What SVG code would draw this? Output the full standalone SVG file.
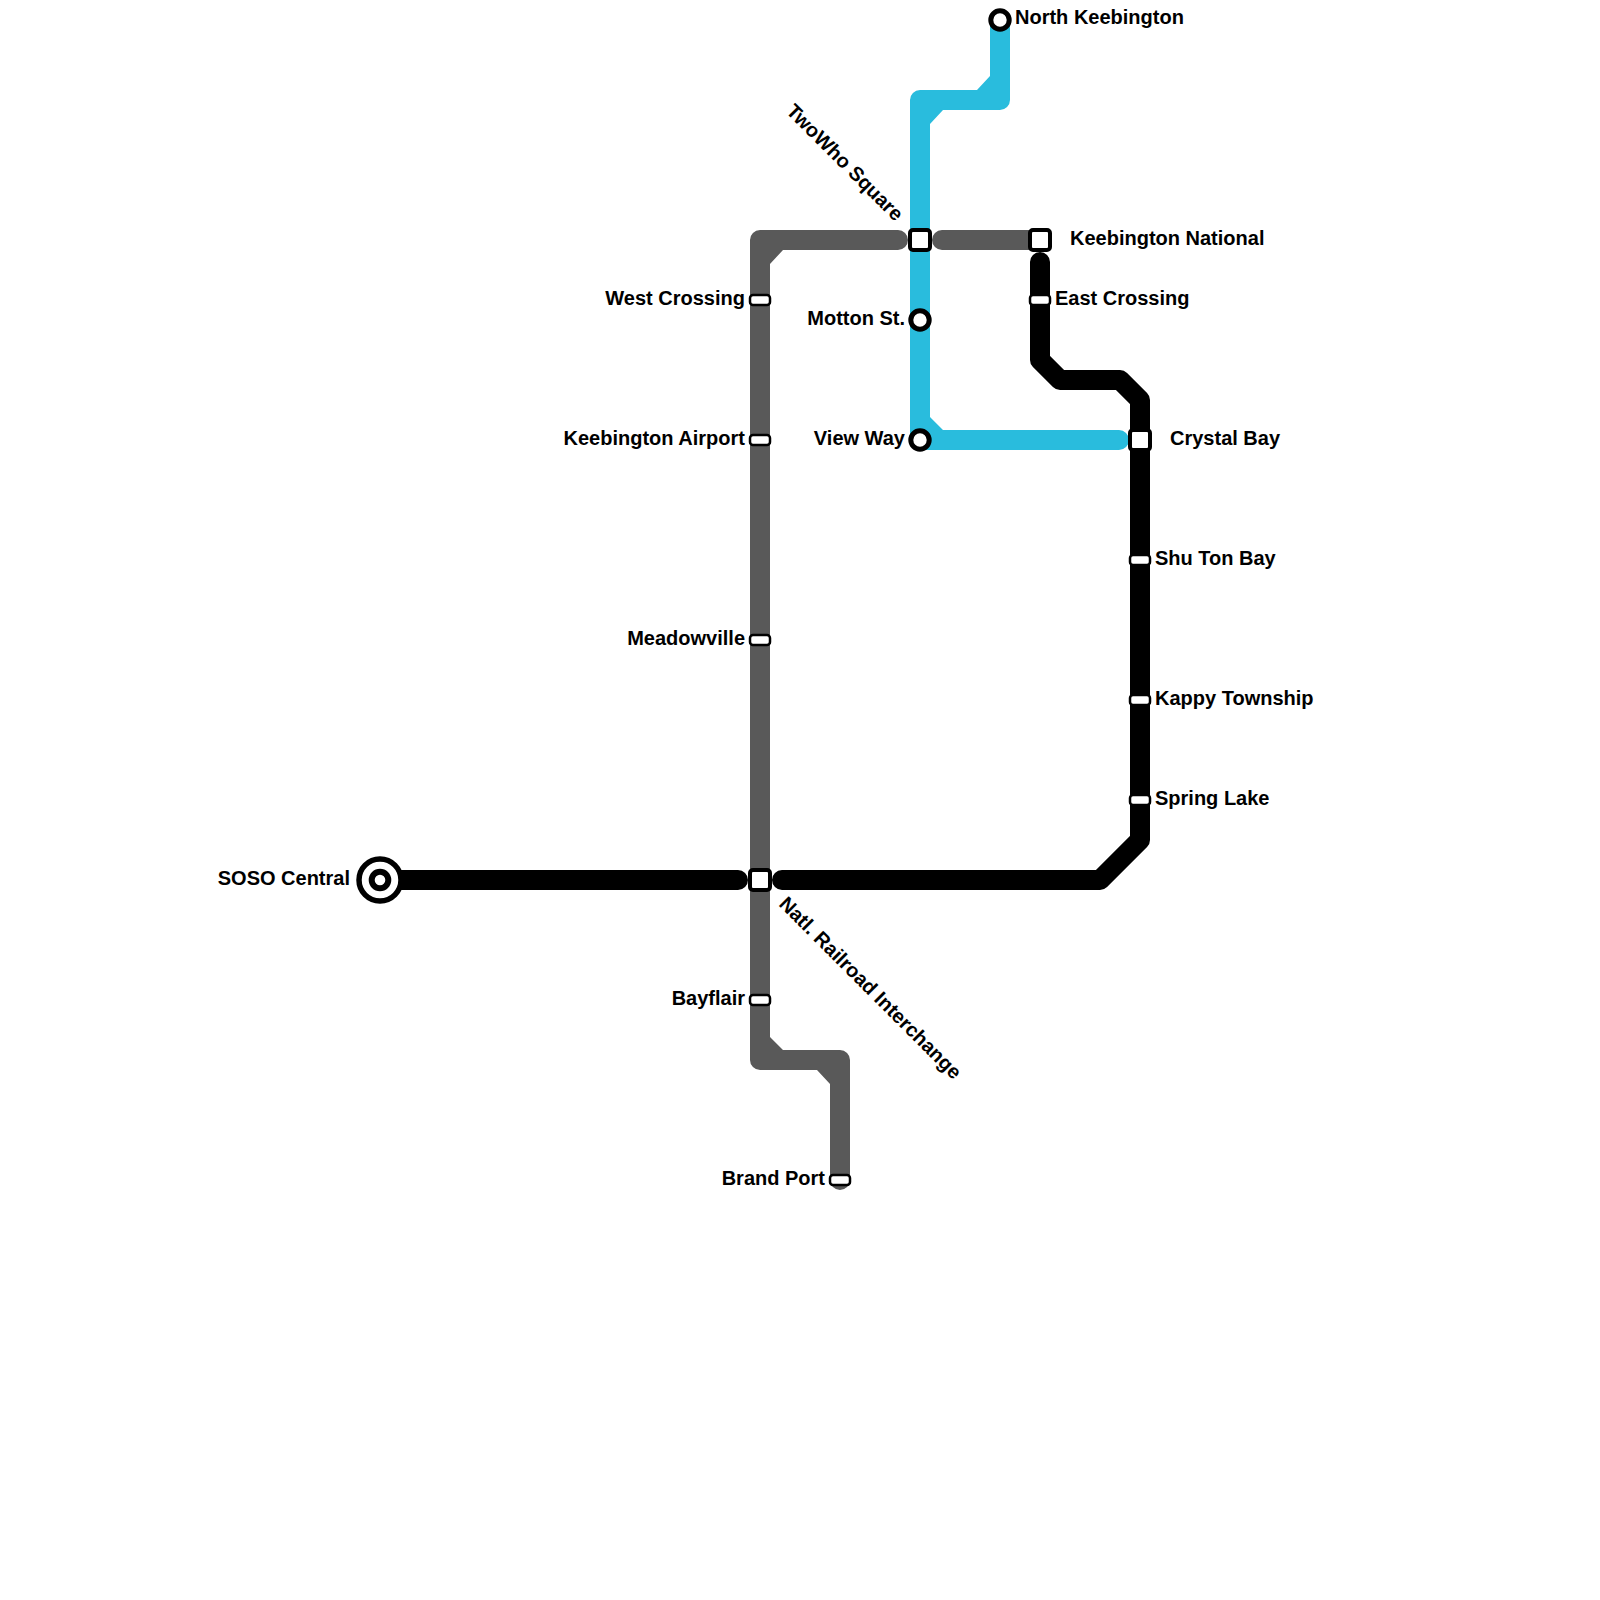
<svg xmlns="http://www.w3.org/2000/svg" width="1600" height="1600" viewBox="0 0 1600 1600">
<style>
.ln{fill:none;stroke-width:20;stroke-linecap:round;stroke-linejoin:round}
.blue{stroke:#29bcdd}.gray{stroke:#595959}.black{stroke:#000}
.fb{fill:#29bcdd}.fg{fill:#595959}
.sq{fill:#fff;stroke:#000;stroke-width:4}
.sm{fill:#fff;stroke:#000;stroke-width:2.5}
.c{fill:#fff;stroke:#000;stroke-width:5}
text{font-family:"Liberation Sans",Arial,sans-serif;font-weight:bold;font-size:20px;fill:#000}
.e{text-anchor:end}
</style>
<rect width="1600" height="1600" fill="#fff"/>
<g id="connectors">
<path class="ln gray" d="M898 240H760V1060H840V1180"/>
<path class="ln gray" d="M942 240H1040"/>
<path class="fg" d="M770 250H783L770 264ZM770 1050V1037L783 1050ZM830 1070H817L830 1084Z"/>
<path class="ln black" d="M1040 262V360L1060 380H1120L1140 400V840L1100 880H782"/>
<path class="ln black" d="M738 880H380"/>
<path class="ln blue" d="M1000 20V100H920V440H1119"/>
<path class="fb" d="M990 90H977L990 76ZM930 110H943L930 124ZM930 430V417L943 430Z"/>
</g>
<g id="north-keebington"><circle class="c" cx="1000" cy="20" r="9.2"/><text x="1015" y="24">North Keebington</text></g>
<g id="twowho-square"><rect class="sq" x="910" y="230" width="20" height="20" rx="3"/><text class="e" transform="translate(895 222) rotate(45)">TwoWho Square</text></g>
<g id="keebington-national"><rect class="sq" x="1030" y="230" width="20" height="20" rx="3"/><text x="1070" y="245">Keebington National</text></g>
<g id="west-crossing"><rect class="sm" x="750" y="295" width="20" height="10" rx="3"/><text class="e" x="745" y="305">West Crossing</text></g>
<g id="east-crossing"><rect class="sm" x="1030" y="295" width="20" height="10" rx="3"/><text x="1055" y="305">East Crossing</text></g>
<g id="motton-st"><circle class="c" cx="920" cy="320" r="9.2"/><text class="e" x="905" y="325">Motton St.</text></g>
<g id="keebington-airport"><rect class="sm" x="750" y="435" width="20" height="10" rx="3"/><text class="e" x="745" y="445">Keebington Airport</text></g>
<g id="view-way"><circle class="c" cx="920" cy="440" r="9.2"/><text class="e" x="905" y="445">View Way</text></g>
<g id="crystal-bay"><rect class="sq" x="1130" y="430" width="20" height="20" rx="3"/><text x="1170" y="445">Crystal Bay</text></g>
<g id="shu-ton-bay"><rect class="sm" x="1130" y="555" width="20" height="10" rx="3"/><text x="1155" y="565">Shu Ton Bay</text></g>
<g id="meadowville"><rect class="sm" x="750" y="635" width="20" height="10" rx="3"/><text class="e" x="745" y="645">Meadowville</text></g>
<g id="kappy-township"><rect class="sm" x="1130" y="695" width="20" height="10" rx="3"/><text x="1155" y="705">Kappy Township</text></g>
<g id="spring-lake"><rect class="sm" x="1130" y="795" width="20" height="10" rx="3"/><text x="1155" y="805">Spring Lake</text></g>
<g id="soso-central"><circle cx="380" cy="880" r="21" fill="#fff" stroke="#000" stroke-width="5.5"/><circle cx="380" cy="880" r="8.3" fill="#fff" stroke="#000" stroke-width="6"/><text class="e" x="350" y="885">SOSO Central</text></g>
<g id="natl-railroad-interchange"><rect class="sq" x="750" y="870" width="20" height="20" rx="3"/><text transform="translate(778 905) rotate(45)">Natl. Railroad Interchange</text></g>
<g id="bayflair"><rect class="sm" x="750" y="995" width="20" height="10" rx="3"/><text class="e" x="745" y="1005">Bayflair</text></g>
<g id="brand-port"><rect class="sm" x="830" y="1175" width="20" height="10" rx="3"/><text class="e" x="825" y="1185">Brand Port</text></g>
</svg>
